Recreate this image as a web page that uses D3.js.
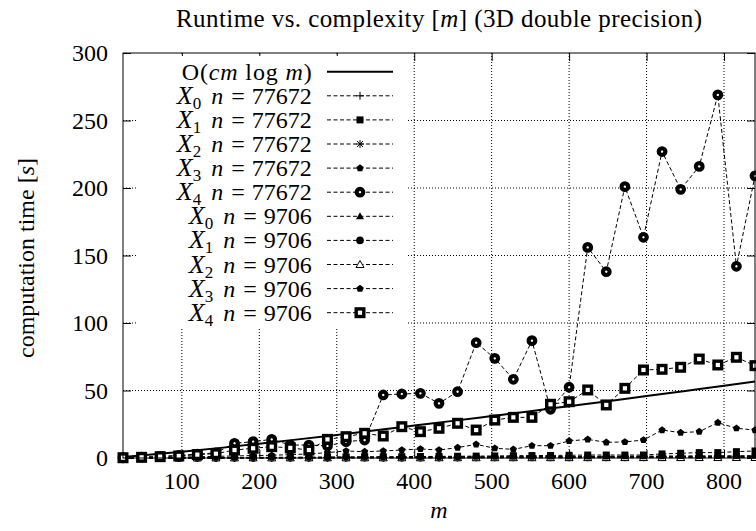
<!DOCTYPE html>
<html>
<head>
<meta charset="utf-8">
<script src="https://cdn.jsdelivr.net/npm/d3@7/dist/d3.min.js"></script>
<style>
body { margin: 0; background: #fff; }
text { font-family: "Liberation Serif", "DejaVu Serif", serif; fill: #000; }
</style>
</head>
<body>
<svg id="chart" width="756" height="531"></svg>
<script>
// complexity m (x values)
const mValues = [24, 48, 72, 96, 120, 144, 168, 192, 216, 240, 264, 288, 312, 336, 360, 384, 408, 432, 456, 480,
  504, 528, 552, 576, 600, 624, 648, 672, 696, 720, 744, 768, 792, 816, 840];

// reference curve O(c m log m)
const refM = [24, 50, 100, 150, 200, 250, 300, 350, 400, 450, 500, 550, 600, 650, 700, 750, 800, 840];
const refTime = [0.8, 2.0, 4.6, 7.5, 10.6, 13.8, 17.1, 20.5, 24.0, 27.5, 31.1, 34.7, 38.4, 42.1, 45.9, 49.7, 53.5, 56.6];

// measured times [s]
const x0n77672 = [0.02, 0.04, 0.06, 0.1, 0.12, 0.14, 0.18, 0.2, 0.24, 0.26, 0.3, 0.32, 0.35, 0.4, 0.42, 0.45, 0.5, 0.52, 0.56, 0.6,
  0.62, 0.66, 0.7, 0.74, 0.78, 0.8, 0.85, 0.9, 0.92, 0.96, 1.0, 1.05, 1.1, 1.15, 1.2];
const x1n77672 = [0.05, 0.1, 0.15, 0.2, 0.25, 0.3, 0.35, 0.4, 0.5, 0.55, 0.6, 0.7, 0.8, 0.9, 0.9, 1.0, 1.1, 1.2, 1.3, 1.4,
  1.5, 1.7, 1.8, 1.9, 2.0, 2.2, 2.2, 2.2, 2.2, 3.0, 3.5, 4.0, 4.0, 4.7, 5.2];
const x2n77672 = [0.03, 0.05, 0.08, 0.12, 0.15, 0.18, 0.22, 0.26, 0.3, 0.33, 0.37, 0.4, 0.45, 0.5, 0.52, 0.56, 0.6, 0.65, 0.7, 0.74,
  0.78, 0.82, 0.86, 0.9, 0.95, 1.0, 1.05, 1.1, 1.15, 1.2, 1.25, 1.3, 1.35, 1.4, 1.45];
const x3n77672 = [0.1, 0.3, 0.5, 0.7, 0.9, 1.2, 1.5, 1.8, 2.0, 2.5, 3.0, 4.0, 5.2, 4.7, 5.2, 5.9, 6.7, 5.9, 7.7, 10.1,
  7.2, 6.4, 9.1, 9.1, 12.6, 13.8, 11.6, 11.9, 13.3, 20.7, 18.8, 19.5, 26.2, 22.0, 20.7];
const x4n77672 = [0.2, 0.6, 1.2, 2.0, 2.8, 3.8, 10.9, 12.1, 13.8, 9.6, 9.6, 8.9, 12.1, 13.3, 46.7, 47.4, 47.9, 40.5, 49.1, 85.4,
  73.8, 58.3, 86.9, 36.1, 52.4, 156, 138, 201, 163.5, 227, 199, 216, 269, 142, 209];
const x0n9706 = [0.01, 0.02, 0.02, 0.03, 0.04, 0.05, 0.05, 0.06, 0.07, 0.08, 0.08, 0.09, 0.1, 0.11, 0.12, 0.12, 0.13, 0.14, 0.15, 0.16,
  0.17, 0.18, 0.19, 0.2, 0.21, 0.22, 0.23, 0.24, 0.25, 0.26, 0.27, 0.28, 0.29, 0.3, 0.31];
const x1n9706 = [0.02, 0.03, 0.05, 0.06, 0.08, 0.1, 0.11, 0.12, 0.14, 0.16, 0.17, 0.19, 0.2, 0.22, 0.24, 0.25, 0.27, 0.29, 0.3, 0.32,
  0.34, 0.36, 0.38, 0.4, 0.42, 0.44, 0.46, 0.48, 0.5, 0.52, 0.54, 0.56, 0.58, 0.6, 0.62];
const x2n9706 = [0.01, 0.02, 0.03, 0.04, 0.05, 0.06, 0.07, 0.08, 0.09, 0.1, 0.11, 0.12, 0.13, 0.14, 0.15, 0.16, 0.17, 0.18, 0.19, 0.2,
  0.21, 0.22, 0.23, 0.24, 0.25, 0.26, 0.27, 0.28, 0.29, 0.3, 0.31, 0.32, 0.33, 0.34, 0.35];
const x3n9706 = [0.03, 0.06, 0.1, 0.13, 0.17, 0.2, 0.25, 0.3, 0.35, 0.4, 0.45, 0.5, 0.55, 0.6, 0.65, 0.7, 0.75, 0.8, 0.85, 0.9,
  0.95, 1.0, 1.05, 1.1, 1.15, 1.2, 1.25, 1.3, 1.35, 1.4, 1.45, 1.5, 1.55, 1.6, 1.65];
const x4n9706 = [0.2, 0.5, 1.0, 1.5, 2.5, 3.2, 5.9, 7.2, 8.4, 7.5, 5.9, 13.8, 15.8, 18.3, 16.3, 23.2, 19.5, 22.0, 25.7, 20.7,
  28.1, 30.1, 30.1, 39.8, 41.7, 50.4, 39.3, 51.6, 65.2, 65.7, 67.2, 73.3, 68.9, 74.6, 68.4];

const xTicks = [100, 200, 300, 400, 500, 600, 700, 800];
const yTicks = [0, 50, 100, 150, 200, 250, 300];

const series = [
  { sub: '0', n: '77672', values: x0n77672, symbol: 'plus' },
  { sub: '1', n: '77672', values: x1n77672, symbol: 'fsquare' },
  { sub: '2', n: '77672', values: x2n77672, symbol: 'star' },
  { sub: '3', n: '77672', values: x3n77672, symbol: 'fpent' },
  { sub: '4', n: '77672', values: x4n77672, symbol: 'ocircle' },
  { sub: '0', n: '9706', values: x0n9706, symbol: 'ftri' },
  { sub: '1', n: '9706', values: x1n9706, symbol: 'fcircle' },
  { sub: '2', n: '9706', values: x2n9706, symbol: 'otri' },
  { sub: '3', n: '9706', values: x3n9706, symbol: 'fpent' },
  { sub: '4', n: '9706', values: x4n9706, symbol: 'osquare' }
];

const plotLeft = 123, plotRight = 755, plotTop = 53, plotBottom = 458;

const svg = d3.select('#chart');

const x = d3.scaleLinear().domain([24, 840]).range([plotLeft, plotRight]);
const y = d3.scaleLinear().domain([0, 300]).range([plotBottom, plotTop]);

// grid
svg.append('g').selectAll('line')
  .data(xTicks).enter().append('line')
  .attr('x1', d => x(d)).attr('x2', d => x(d))
  .attr('y1', plotTop).attr('y2', plotBottom)
  .attr('stroke', '#000').attr('stroke-width', 1).attr('stroke-dasharray', '1,2');
svg.append('g').selectAll('line')
  .data(yTicks.filter(d => d > 0 && d < 300)).enter().append('line')
  .attr('x1', plotLeft).attr('x2', plotRight)
  .attr('y1', d => y(d)).attr('y2', d => y(d))
  .attr('stroke', '#000').attr('stroke-width', 1).attr('stroke-dasharray', '1,2');

// axes (ticks pointing inward)
const yAxisL = svg.append('g').attr('transform', `translate(${plotLeft},0)`)
  .call(d3.axisRight(y).tickValues(yTicks).tickSize(8).tickFormat(''));
const yAxisR = svg.append('g').attr('transform', `translate(${plotRight},0)`)
  .call(d3.axisLeft(y).tickValues(yTicks).tickSize(8).tickFormat(''));
const xAxisB = svg.append('g').attr('transform', `translate(0,${plotBottom})`)
  .call(d3.axisTop(x).tickValues(xTicks).tickSize(8).tickFormat(''));
const xAxisT = svg.append('g').attr('transform', `translate(0,${plotTop})`)
  .call(d3.axisBottom(x).tickValues(xTicks).tickSize(8).tickFormat(''));
[yAxisL, yAxisR, xAxisB, xAxisT].forEach(a => a.select('.domain').remove());

// tick labels
svg.append('g').selectAll('text')
  .data(yTicks).enter().append('text')
  .attr('x', 108).attr('y', d => y(d) + 8)
  .attr('text-anchor', 'end').style('font-size', '24px')
  .text(d => d);
svg.append('g').selectAll('text')
  .data(xTicks).enter().append('text')
  .attr('x', d => x(d)).attr('y', 489)
  .attr('text-anchor', 'middle').style('font-size', '24px')
  .text(d => d);

// legend box (hides grid behind it)
svg.append('rect')
  .attr('x', 138).attr('y', 56).attr('width', 270).attr('height', 272)
  .attr('fill', '#fff');

// symbols
function drawSymbol(g, type) {
  switch (type) {
    case 'plus':
      g.append('path').attr('d', 'M-4,0H4M0,-4V4').attr('stroke', '#000').attr('stroke-width', 1);
      break;
    case 'star':
      g.append('path').attr('d', 'M-4,0H4M0,-4V4M-3,-3L3,3M-3,3L3,-3').attr('stroke', '#000').attr('stroke-width', 1);
      break;
    case 'fsquare':
      g.append('rect').attr('x', -3.5).attr('y', -3.5).attr('width', 7).attr('height', 7).attr('fill', '#000');
      break;
    case 'osquare':
      g.append('rect').attr('x', -3.8).attr('y', -3.8).attr('width', 7.6).attr('height', 7.6)
        .attr('fill', '#fff').attr('stroke', '#000').attr('stroke-width', 3.4);
      break;
    case 'fcircle':
      g.append('circle').attr('r', 3.8).attr('fill', '#000');
      break;
    case 'ocircle':
      g.append('circle').attr('r', 3.3).attr('fill', '#fff').attr('stroke', '#000').attr('stroke-width', 4.2);
      break;
    case 'ftri':
      g.append('path').attr('d', 'M0,-4L4,3L-4,3Z').attr('fill', '#000');
      break;
    case 'otri':
      g.append('path').attr('d', 'M0,-4L4,3L-4,3Z').attr('fill', '#fff').attr('stroke', '#000').attr('stroke-width', 1);
      break;
    case 'fpent': {
      const pts = d3.range(5).map(i => {
        const a = -Math.PI / 2 + i * 2 * Math.PI / 5;
        return [3.8 * Math.cos(a), 3.8 * Math.sin(a)];
      });
      g.append('path').attr('d', 'M' + pts.join('L') + 'Z').attr('fill', '#000');
      break;
    }
  }
}

// reference curve
const line = d3.line().x(d => x(d[0])).y(d => y(d[1])).curve(d3.curveMonotoneX);
svg.append('path')
  .datum(refM.map((m, i) => [m, refTime[i]]))
  .attr('d', line)
  .attr('fill', 'none').attr('stroke', '#000').attr('stroke-width', 2);

// data series
const dataLine = d3.line().x(d => x(d[0])).y(d => y(d[1]));
series.forEach(s => {
  const pts = mValues.map((m, i) => [m, s.values[i]]);
  svg.append('path').datum(pts)
    .attr('d', dataLine)
    .attr('fill', 'none').attr('stroke', '#000').attr('stroke-width', 1)
    .attr('stroke-dasharray', '4,2.5');
  svg.append('g').selectAll('g')
    .data(pts).enter().append('g')
    .attr('transform', d => `translate(${x(d[0])},${y(d[1])})`)
    .each(function () { drawSymbol(d3.select(this), s.symbol); });
});

// border
svg.append('rect')
  .attr('x', plotLeft).attr('y', plotTop).attr('width', plotRight - plotLeft).attr('height', plotBottom - plotTop)
  .attr('fill', 'none').attr('stroke', '#000').attr('stroke-width', 1);

// legend
const legY0 = 71.7, legStep = 24.1, legRight = 311.7;
const leg = svg.append('g').style('font-size', '24px');
const t0 = leg.append('text').attr('x', legRight).attr('y', legY0 + 8).attr('text-anchor', 'end')
  .attr('textLength', 130).attr('lengthAdjust', 'spacing');
t0.append('tspan').text('O(');
t0.append('tspan').style('font-style', 'italic').text('cm');
t0.append('tspan').text(' log ');
t0.append('tspan').style('font-style', 'italic').text('m');
t0.append('tspan').text(')');
leg.append('line').attr('x1', 327).attr('x2', 393).attr('y1', legY0).attr('y2', legY0)
  .attr('stroke', '#000').attr('stroke-width', 2);

series.forEach((s, i) => {
  const cy = legY0 + (i + 1) * legStep;
  const t = leg.append('text').attr('x', legRight).attr('y', cy + 8).attr('text-anchor', 'end');
  t.append('tspan').style('font-style', 'italic').style('font-size', '26px').text('X');
  t.append('tspan').attr('dy', 5).style('font-size', '17px').text(s.sub);
  t.append('tspan').attr('dy', -5).attr('dx', 10).style('font-style', 'italic').text('n');
  t.append('tspan').attr('dx', 8).text('=');
  t.append('tspan').attr('dx', 7).text(s.n);
  leg.append('line').attr('x1', 327).attr('x2', 393).attr('y1', cy).attr('y2', cy)
    .attr('stroke', '#000').attr('stroke-width', 1).attr('stroke-dasharray', '4,2.5');
  const g = leg.append('g').attr('transform', `translate(360,${cy})`);
  drawSymbol(g, s.symbol);
});

// title and axis labels
const title = svg.append('text').attr('x', 439).attr('y', 27).attr('text-anchor', 'middle')
  .style('font-size', '25px').attr('textLength', 526).attr('lengthAdjust', 'spacing');
title.append('tspan').text('Runtime vs. complexity [');
title.append('tspan').style('font-style', 'italic').text('m');
title.append('tspan').text('] (3D double precision)');

const yl = svg.append('text')
  .attr('transform', 'translate(34,258) rotate(-90)')
  .attr('text-anchor', 'middle').style('font-size', '24px');
yl.append('tspan').text('computation time [');
yl.append('tspan').style('font-style', 'italic').text('s');
yl.append('tspan').text(']');

svg.append('text').attr('x', 439).attr('y', 518).attr('text-anchor', 'middle')
  .style('font-size', '24px').style('font-style', 'italic').text('m');
</script>
</body>
</html>
